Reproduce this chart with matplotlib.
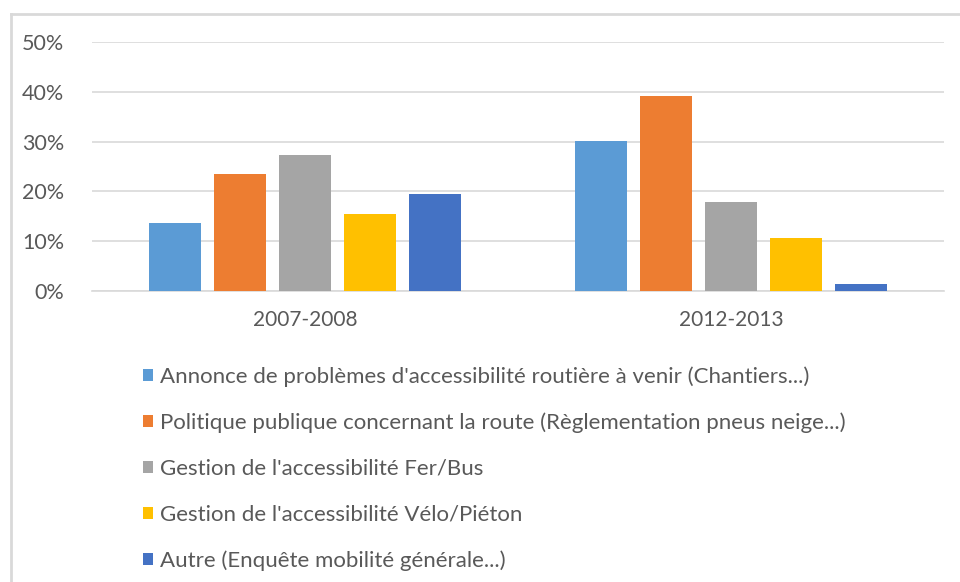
import matplotlib.pyplot as plt
from matplotlib.patches import Patch
from matplotlib.lines import Line2D
from matplotlib.ticker import PercentFormatter

plt.rcParams['font.family'] = ['Lato', 'DejaVu Sans']

periods = ['2007-2008', '2012-2013']
labels = [
    "Annonce de problèmes d'accessibilité routière à venir (Chantiers...)",
    "Politique publique concernant la route (Règlementation pneus neige...)",
    "Gestion de l'accessibilité Fer/Bus",
    "Gestion de l'accessibilité Vélo/Piéton",
    "Autre (Enquête mobilité générale...)",
]
annonce = [0.137, 0.302]
politique = [0.235, 0.392]
fer_bus = [0.274, 0.178]
velo = [0.155, 0.106]
autre = [0.194, 0.015]
series = [annonce, politique, fer_bus, velo, autre]
colors = ['#5B9BD5', '#ED7D31', '#A5A5A5', '#FFC000', '#4472C4']
txt = '#595959'

fig = plt.figure(figsize=(9.6, 5.82), dpi=100)
ax = fig.add_axes([0.0958, 0.5, 0.888, 0.4278])

step = 0.1524
width = 0.122
for i, vals in enumerate(series):
    xs = [j + (i - 2) * step for j in range(len(periods))]
    ax.bar(xs, vals, width, color=colors[i], zorder=3)

ax.set_xlim(-0.5, 1.5)
ax.set_ylim(0, 0.5)
ax.set_yticks([0, 0.1, 0.2, 0.3, 0.4, 0.5])
ax.yaxis.set_major_formatter(PercentFormatter(1.0, decimals=0))
ax.set_xticks(range(len(periods)))
ax.set_xticklabels(periods)
ax.grid(axis='y', color='#D9D9D9', linewidth=1.2, zorder=0)
for s in ['top', 'right', 'left']:
    ax.spines[s].set_visible(False)
ax.spines['bottom'].set_color('#D9D9D9')
ax.spines['bottom'].set_linewidth(1.2)
ax.tick_params(length=0, labelsize=15, colors=txt)
ax.tick_params(axis='y', labelsize=15.5, pad=20)
ax.tick_params(axis='x', pad=14)

handles = [Patch(facecolor=c) for c in colors]
fig.legend(handles, labels, loc='upper left', bbox_to_anchor=(0.149, 0.371),
           frameon=False, fontsize=16, labelcolor=txt, borderpad=0,
           borderaxespad=0, handlelength=0.45, handleheight=0.45,
           handletextpad=0.32, labelspacing=1.16)

# outer chart border (top and left only visible)
fig.add_artist(Line2D([0.0115, 1.0], [1 - 13.5 / 582, 1 - 13.5 / 582],
                      transform=fig.transFigure, color='#D9D9D9', linewidth=2))
fig.add_artist(Line2D([0.0115, 0.0115], [0, 1 - 13.5 / 582],
                      transform=fig.transFigure, color='#D9D9D9', linewidth=2))

fig.savefig('out.png', dpi=100)
